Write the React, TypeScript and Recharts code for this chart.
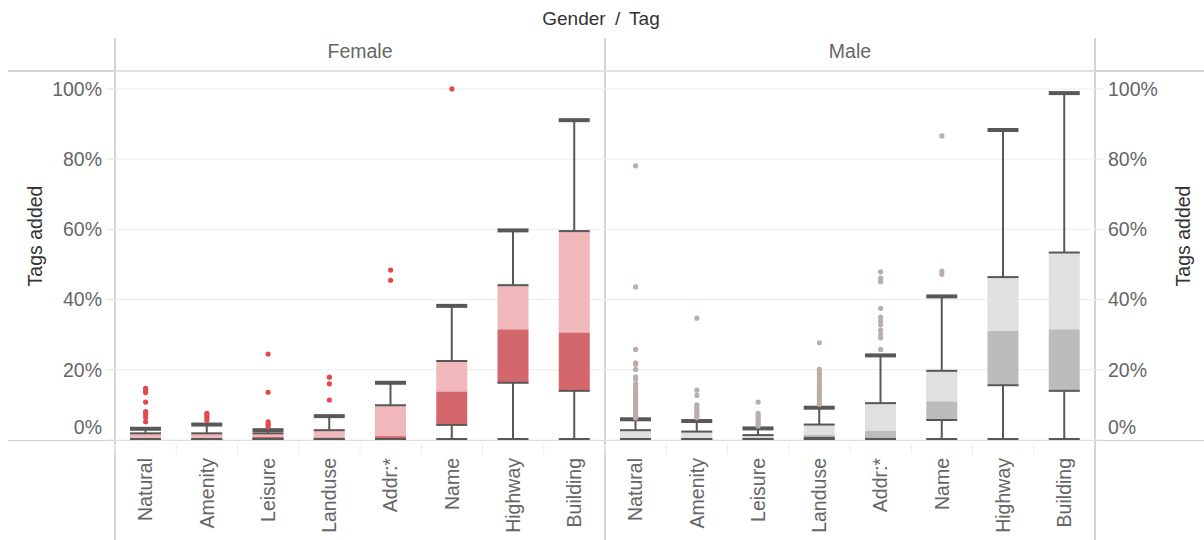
import React from "react";
import { ComposedChart, Bar, Scatter, XAxis, YAxis, CartesianGrid } from "recharts";

const categories = ["Natural", "Amenity", "Leisure", "Landuse", "Addr:*", "Name", "Highway", "Building"];
const yTicks = [0, 20, 40, 60, 80, 100];

// box plot stats, % of tags added
const femaleMin = [0, 0, 0, 0, 0, 0, 0, 0];
const femaleQ1 = [0, 0, 0.3, 0, 0, 4.3, 16.3, 14.0];
const femaleMedian = [0.3, 0.5, 0.9, 0.7, 1.1, 13.8, 31.5, 30.6];
const femaleQ3 = [1.9, 1.9, 1.9, 2.8, 9.9, 22.5, 44.1, 59.5];
const femaleMax = [3.2, 4.4, 2.8, 6.8, 16.3, 38.2, 59.7, 91.1];

const maleMin = [0, 0, 0, 0, 0, 0, 0, 0];
const maleQ1 = [0, 0, 0.1, 0.6, 0.3, 5.7, 15.6, 14.0];
const maleMedian = [0.2, 0.6, 0.5, 1.5, 2.6, 11.0, 31.1, 31.5];
const maleQ3 = [2.8, 2.4, 1.4, 4.4, 10.5, 19.7, 46.4, 53.4];
const maleMax = [5.9, 5.4, 3.3, 9.2, 24.1, 40.9, 88.3, 98.8];

const femaleOutliers = [
  [14.7, 14.2, 13.5, 10.8, 8.1, 7.3, 6.4, 5.2],
  [7.6, 7.0, 6.4, 5.6],
  [24.5, 13.6, 5.2, 4.5, 3.8],
  [17.9, 16.0, 11.4],
  [48.4, 45.5],
  [100],
  [],
  [],
];

const maleOutliers = [
  [78.1, 43.6, 25.8, 22.0, 21.6, 20.1, 18.0, 17.3, 16.0, 15.5, 14.6, 13.8, 13.0, 12.4, 11.7, 11.0, 10.4, 9.7, 9.0, 8.3, 7.6, 6.9, 6.3],
  [34.7, 14.2, 12.7, 10.0, 9.4, 8.8, 8.2, 7.6, 7.0, 6.4],
  [10.8, 7.6, 7.0, 6.4, 5.8, 5.2, 4.6, 4.0],
  [27.7, 20.1, 19.4, 18.7, 18.0, 17.3, 16.6, 15.9, 15.2, 14.5, 13.8, 13.1, 12.4, 11.7, 11.0, 10.2],
  [47.9, 46.1, 45.1, 37.5, 35.0, 33.9, 32.8, 31.3, 30.1, 29.1, 25.8],
  [86.6, 48.1, 47.2],
  [],
  [],
];

const FONT = '"Liberation Sans", Arial, sans-serif';
const LINE = "#585858";
const TEXT = "#666666";
const BORDER = "#d4d4d4";
const palette: Record<string, { light: string; dark: string; dot: string }> = {
  Female: { light: "#f0b8ba", dark: "#d3676b", dot: "#e4484d" },
  Male: { light: "#e0e0e0", dark: "#bcbcbc", dot: "#b9aeaa" },
};

const W = 1204;
const H = 540;
const plotLeft = 115;
const plotRight = 1095;
const plotTop = 71;
const plotBottom = 440;
const band = (plotRight - plotLeft) / 16;

function buildRows(gender: string, mins: number[], q1s: number[], meds: number[], q3s: number[], maxs: number[]) {
  return categories.map((tag, i) => ({
    key: `${gender}|${tag}`,
    gender,
    tag,
    min: mins[i],
    q1: q1s[i],
    median: meds[i],
    q3: q3s[i],
    max: maxs[i],
  }));
}

const rows = [
  ...buildRows("Female", femaleMin, femaleQ1, femaleMedian, femaleQ3, femaleMax),
  ...buildRows("Male", maleMin, maleQ1, maleMedian, maleQ3, maleMax),
];

function outlierPoints(gender: string, lists: number[][]) {
  return categories.flatMap((tag, i) => lists[i].map((value) => ({ key: `${gender}|${tag}`, value })));
}

const femalePoints = outlierPoints("Female", femaleOutliers);
const malePoints = outlierPoints("Male", maleOutliers);

function BoxShape(props: any) {
  const { x, y, width, height, payload } = props;
  if (!payload || !height) return null;
  const base = y + height;
  const k = height / payload.max;
  const py = (v: number) => base - v * k;
  const pal = palette[payload.gender];
  const cx = x + width / 2;
  return (
    <g>
      <rect x={x} y={py(payload.q3)} width={width} height={py(payload.median) - py(payload.q3)} fill={pal.light} />
      <rect x={x} y={py(payload.median)} width={width} height={py(payload.q1) - py(payload.median)} fill={pal.dark} />
      <line x1={cx} x2={cx} y1={py(payload.max)} y2={py(payload.q3)} stroke={LINE} strokeWidth={2} />
      <line x1={cx} x2={cx} y1={py(payload.q1)} y2={py(payload.min)} stroke={LINE} strokeWidth={2} />
      <line x1={x} x2={x + width} y1={py(payload.q3)} y2={py(payload.q3)} stroke={LINE} strokeWidth={2} />
      <line x1={x} x2={x + width} y1={py(payload.q1)} y2={py(payload.q1)} stroke={LINE} strokeWidth={2} />
      <line x1={x} x2={x + width} y1={py(payload.max)} y2={py(payload.max)} stroke={LINE} strokeWidth={4} />
      <line x1={x} x2={x + width} y1={py(payload.min) - 1} y2={py(payload.min) - 1} stroke={LINE} strokeWidth={2} />
    </g>
  );
}

const dot = (fill: string) => (p: any) => <circle cx={p.cx} cy={p.cy} r={2.6} fill={fill} />;

function ValueTick(props: any) {
  const { x, y, payload, textAnchor } = props;
  const ny = payload.value === 0 ? y - 13 : y;
  return (
    <text x={x} y={ny} dy="0.355em" textAnchor={textAnchor} fill={TEXT} fontSize={19.5} fontFamily={FONT}>
      {`${payload.value}%`}
    </text>
  );
}

function CategoryTick(props: any) {
  const { x, y, payload } = props;
  const label = String(payload.value).split("|")[1];
  const ty = y + 16;
  return (
    <g>
      <line x1={x - band / 2} x2={x - band / 2} y1={y + 2} y2={y + 12} stroke="#ececec" strokeWidth={1} />
      <text
        x={x}
        y={ty}
        dy="0.35em"
        transform={`rotate(-90 ${x} ${ty})`}
        textAnchor="end"
        fill={TEXT}
        fontSize={19.5}
        fontFamily={FONT}
      >
        {label}
      </text>
    </g>
  );
}

const hLine = (top: number, left: number, width: number, color = BORDER) => (
  <div style={{ position: "absolute", top, left, width, height: 1.5, background: color }} />
);
const vLine = (left: number, top: number, height: number) => (
  <div style={{ position: "absolute", top, left, width: 1.5, height, background: BORDER }} />
);

export default function App() {
  return (
    <div style={{ position: "absolute", left: 0, top: 0, width: W, height: H, background: "#fff", fontFamily: FONT, overflow: "hidden" }}>
      {hLine(plotTop - 1, 8, W - 8)}
      {hLine(plotBottom - 0.5, 8, W - 8, "#cfcfcf")}
      {vLine(plotLeft - 1, 38, H - 38)}
      {vLine((plotLeft + plotRight) / 2 - 1, 38, H - 38)}
      {vLine(plotRight - 1, 38, H - 38)}

      <div style={{ position: "absolute", top: 8, left: 0, width: W - 2, textAlign: "center", fontSize: 19, color: "#333", wordSpacing: 4 }}>
        Gender / Tag
      </div>
      <div style={{ position: "absolute", top: 40, left: plotLeft, width: 490, textAlign: "center", fontSize: 19.5, color: TEXT }}>Female</div>
      <div style={{ position: "absolute", top: 40, left: plotLeft + 490, width: 490, textAlign: "center", fontSize: 19.5, color: TEXT }}>Male</div>

      <div style={{ position: "absolute", left: 0, top: 0 }}>
        <ComposedChart width={W} height={H} data={rows} margin={{ top: plotTop, right: 0, bottom: 0, left: 0 }}>
          <CartesianGrid yAxisId="left" vertical={false} stroke="#ededed" />
          <XAxis
            dataKey="key"
            type="category"
            allowDuplicatedCategory={false}
            height={H - plotBottom}
            axisLine={false}
            tickLine={false}
            tickSize={0}
            interval={0}
            tick={<CategoryTick />}
          />
          <YAxis
            yAxisId="left"
            orientation="left"
            width={plotLeft}
            type="number"
            domain={[0, 105.1]}
            allowDataOverflow
            ticks={yTicks}
            axisLine={false}
            tickLine={{ stroke: "#e3e3e3" }}
            tickSize={8}
            tickMargin={5}
            tick={<ValueTick />}
            label={{
              content: () => (
                <text x={35} y={236} dy="0.35em" transform="rotate(-90 35 236)" textAnchor="middle" fill="#333" fontSize={19.5} fontFamily={FONT}>
                  Tags added
                </text>
              ),
            }}
          />
          <YAxis
            yAxisId="right"
            orientation="right"
            width={W - plotRight}
            type="number"
            domain={[0, 105.1]}
            allowDataOverflow
            ticks={yTicks}
            axisLine={false}
            tickLine={{ stroke: "#e3e3e3" }}
            tickSize={8}
            tickMargin={5}
            tick={<ValueTick />}
            label={{
              content: () => (
                <text x={1183} y={236} dy="0.35em" transform="rotate(-90 1183 236)" textAnchor="middle" fill="#333" fontSize={19.5} fontFamily={FONT}>
                  Tags added
                </text>
              ),
            }}
          />
          <Bar yAxisId="left" dataKey="max" barSize={31} shape={<BoxShape />} isAnimationActive={false} />
          <Scatter yAxisId="left" data={femalePoints} dataKey="value" shape={dot(palette.Female.dot)} isAnimationActive={false} />
          <Scatter yAxisId="left" data={malePoints} dataKey="value" shape={dot(palette.Male.dot)} isAnimationActive={false} />
        </ComposedChart>
      </div>
    </div>
  );
}
